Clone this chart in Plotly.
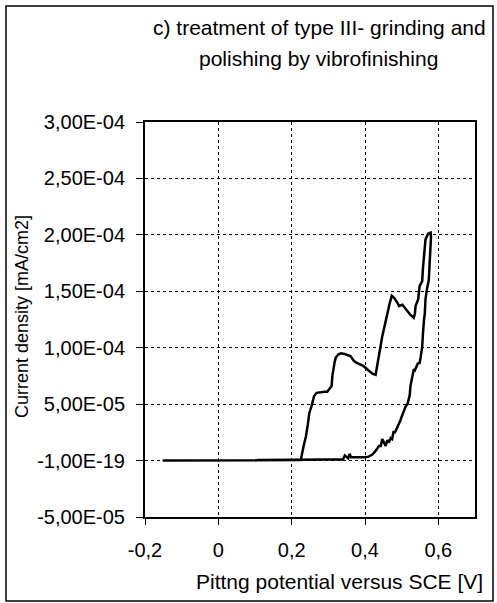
import plotly.graph_objects as go

# Forward scan (potential V, current density mA/cm2)
v_forward = [-0.152, 0.10, 0.22, 0.225, 0.232, 0.239, 0.244, 0.248, 0.254, 0.261, 0.268, 0.275,
             0.290, 0.297, 0.305, 0.309, 0.311, 0.313, 0.317, 0.320, 0.327, 0.334, 0.345, 0.352,
             0.361, 0.368, 0.375, 0.385, 0.395, 0.402, 0.410, 0.420, 0.429, 0.433, 0.438, 0.443,
             0.447, 0.454, 0.461, 0.467, 0.473, 0.480, 0.488, 0.493, 0.502, 0.511, 0.518, 0.524,
             0.533, 0.536, 0.538, 0.545, 0.549, 0.556, 0.558, 0.561, 0.565, 0.572, 0.579]
i_forward = [0.0, 0.0, 0.0, 0.005e-4, 0.12e-4, 0.215e-4, 0.32e-4, 0.42e-4, 0.48e-4, 0.57e-4, 0.60e-4, 0.605e-4,
             0.61e-4, 0.61e-4, 0.64e-4, 0.66e-4, 0.75e-4, 0.81e-4, 0.87e-4, 0.91e-4, 0.94e-4, 0.95e-4, 0.945e-4, 0.935e-4,
             0.925e-4, 0.89e-4, 0.87e-4, 0.855e-4, 0.84e-4, 0.82e-4, 0.80e-4, 0.77e-4, 0.76e-4, 0.84e-4, 0.955e-4, 1.03e-4,
             1.10e-4, 1.20e-4, 1.31e-4, 1.39e-4, 1.46e-4, 1.44e-4, 1.40e-4, 1.37e-4, 1.38e-4, 1.34e-4, 1.31e-4, 1.29e-4,
             1.265e-4, 1.30e-4, 1.37e-4, 1.43e-4, 1.545e-4, 1.59e-4, 1.70e-4, 1.81e-4, 1.96e-4, 2.01e-4, 2.02e-4]

# Reverse scan
v_reverse = [0.579, 0.580, 0.578, 0.576, 0.574, 0.569, 0.565, 0.563, 0.561, 0.558, 0.556, 0.552,
             0.549, 0.544, 0.540, 0.536, 0.533, 0.529, 0.527, 0.524, 0.522, 0.520, 0.516, 0.511,
             0.506, 0.502, 0.499, 0.497, 0.492, 0.488, 0.485, 0.481, 0.478, 0.474, 0.470, 0.465,
             0.461, 0.456, 0.452, 0.447, 0.443, 0.438, 0.430, 0.420, 0.410, 0.400, 0.380, 0.362,
             0.358, 0.354, 0.345, 0.340, 0.300, 0.250, 0.200, 0.110, 0.100]
i_reverse = [2.02e-4, 1.98e-4, 1.84e-4, 1.72e-4, 1.60e-4, 1.52e-4, 1.43e-4, 1.30e-4, 1.25e-4, 1.12e-4, 1.01e-4, 0.92e-4,
             0.865e-4, 0.86e-4, 0.835e-4, 0.80e-4, 0.81e-4, 0.75e-4, 0.70e-4, 0.66e-4, 0.58e-4, 0.54e-4, 0.50e-4, 0.48e-4,
             0.44e-4, 0.42e-4, 0.38e-4, 0.36e-4, 0.32e-4, 0.29e-4, 0.27e-4, 0.245e-4, 0.26e-4, 0.19e-4, 0.20e-4, 0.16e-4,
             0.18e-4, 0.13e-4, 0.16e-4, 0.19e-4, 0.13e-4, 0.13e-4, 0.09e-4, 0.053e-4, 0.035e-4, 0.03e-4, 0.03e-4, 0.03e-4,
             0.06e-4, 0.02e-4, 0.045e-4, 0.01e-4, 0.01e-4, 0.01e-4, 0.005e-4, 0.005e-4, 0.0]

y_tickvals = [-5e-5, 0, 5e-5, 1e-4, 1.5e-4, 2e-4, 2.5e-4, 3e-4]
y_ticktext = ["-5,00E-05", "-1,00E-19", "5,00E-05", "1,00E-04", "1,50E-04", "2,00E-04", "2,50E-04", "3,00E-04"]
x_tickvals = [-0.2, 0, 0.2, 0.4, 0.6]
x_ticktext = ["-0,2", "0", "0,2", "0,4", "0,6"]

FONT = "Arial, 'Liberation Sans', sans-serif"

fig = go.Figure()
fig.add_trace(go.Scatter(x=v_forward + v_reverse, y=i_forward + i_reverse, mode="lines",
                         line=dict(color="black", width=2.5), showlegend=False, hoverinfo="skip"))

L, R, T, B = 145, 22, 122, 86
W, H = 497, 603
pw, ph = W - L - R, H - T - B

def px(x):
    return (x - L) / pw

def py(y):
    return (H - B - y) / ph

fig.update_layout(
    width=W, height=H,
    margin=dict(l=L, r=R, t=T, b=B),
    paper_bgcolor="white", plot_bgcolor="white",
    font=dict(family=FONT, color="black", size=20),
    xaxis=dict(range=[-0.2, 0.7], tickvals=x_tickvals, ticktext=x_ticktext,
               showgrid=True, gridcolor="black", griddash="dot", gridwidth=1,
               showline=True, linecolor="black", linewidth=2, mirror=True,
               ticks="outside", ticklen=6, tickcolor="black", zeroline=False,
               ticklabelstandoff=8, tickfont=dict(size=20)),
    yaxis=dict(range=[-5e-5, 3e-4], tickvals=y_tickvals, ticktext=y_ticktext,
               showgrid=True, gridcolor="black", griddash="dot", gridwidth=1,
               showline=True, linecolor="black", linewidth=2, mirror=True,
               ticks="outside", ticklen=7, tickcolor="black", zeroline=False,
               ticklabelstandoff=7, tickfont=dict(size=20)),
)

fig.add_annotation(text="c) treatment of type III- grinding and", xref="paper", yref="paper",
                   x=px(319), y=py(27), showarrow=False, font=dict(size=21), xanchor="center", yanchor="middle")
fig.add_annotation(text="polishing by vibrofinishing", xref="paper", yref="paper",
                   x=px(318), y=py(58), showarrow=False, font=dict(size=21), xanchor="center", yanchor="middle")
fig.add_annotation(text="Current density [mA/cm2]", xref="paper", yref="paper",
                   x=px(22), y=py(317), showarrow=False, textangle=-90, font=dict(size=18),
                   xanchor="center", yanchor="middle")
fig.add_annotation(text="Pittng potential versus SCE [V]", xref="paper", yref="paper",
                   x=px(339), y=py(581), showarrow=False, font=dict(size=21),
                   xanchor="center", yanchor="middle")

fig.add_shape(type="rect", xref="paper", yref="paper",
              x0=px(6), x1=px(493), y0=py(601), y1=py(6),
              line=dict(color="black", width=1.5), fillcolor="rgba(0,0,0,0)")

fig.write_html("out.html", config={"displayModeBar": False},
               post_script="document.body.style.margin='0';document.body.style.overflow='hidden';")
